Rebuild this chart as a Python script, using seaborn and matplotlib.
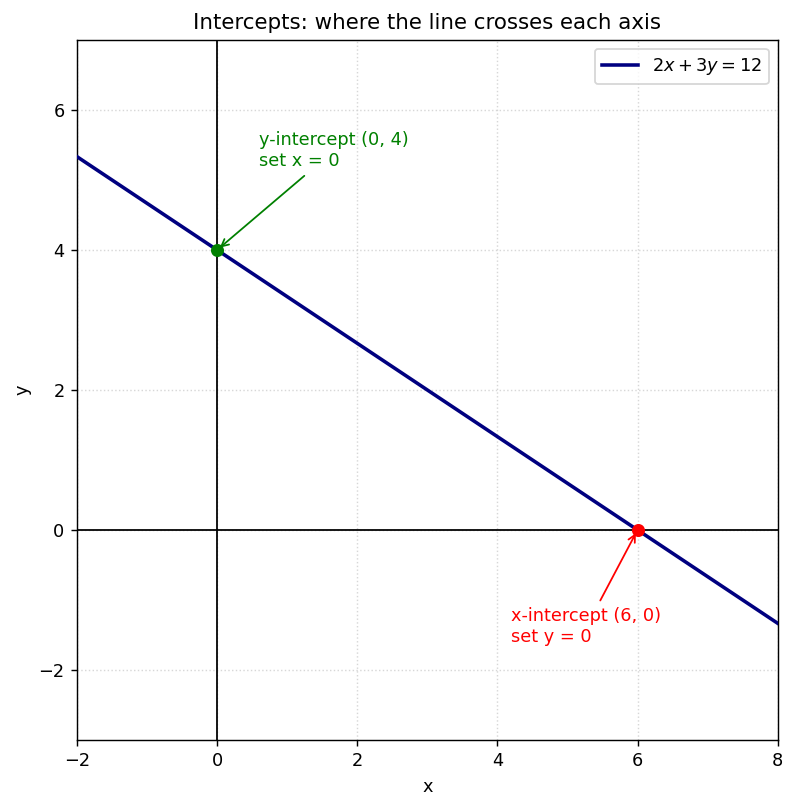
import numpy as np
import pandas as pd
import matplotlib
matplotlib.use("Agg")
import matplotlib.pyplot as plt
import seaborn as sns

# line 2x + 3y = 12, endpoints read at the edges of the view
line_x = [-2, 8]
line_y = [5.333, -1.333]
y_int = (0, 4)
x_int = (6, 0)
xticks = [-2, 0, 2, 4, 6, 8]
yticks = [-2, 0, 2, 4, 6]

df = pd.DataFrame({"x": line_x, "y": line_y})

fig, ax = plt.subplots(figsize=(796 / 128, 809 / 128), dpi=128)
fig.subplots_adjust(left=0.0967, right=0.977, top=0.9506, bottom=0.0853)

ax.axhline(0, color="black", lw=1, zorder=2)
ax.axvline(0, color="black", lw=1, zorder=2)
sns.lineplot(data=df, x="x", y="y", ax=ax, color="navy", lw=2, label="$2x + 3y = 12$", zorder=3)
ax.scatter([y_int[0]], [y_int[1]], color="green", s=40, zorder=4)
ax.scatter([x_int[0]], [x_int[1]], color="red", s=40, zorder=4)

ax.annotate("y-intercept (0, 4)\nset x = 0", xy=y_int, xytext=(0.6, 5.2),
            color="green", fontsize=10,
            arrowprops=dict(arrowstyle="->", color="green"))
ax.annotate("x-intercept (6, 0)\nset y = 0", xy=x_int, xytext=(4.2, -1.6),
            color="red", fontsize=10,
            arrowprops=dict(arrowstyle="->", color="red"))

ax.set_xlim(-2, 8)
ax.set_ylim(-3, 7)
ax.set_xticks(xticks)
ax.set_yticks(yticks)
ax.grid(True, linestyle=":", color="lightgray", alpha=0.9)
ax.set_xlabel("x")
ax.set_ylabel("y")
ax.set_title("Intercepts: where the line crosses each axis", fontsize=12)
ax.legend(loc="upper right", fontsize=10)

fig.savefig("out.png", dpi=128)
